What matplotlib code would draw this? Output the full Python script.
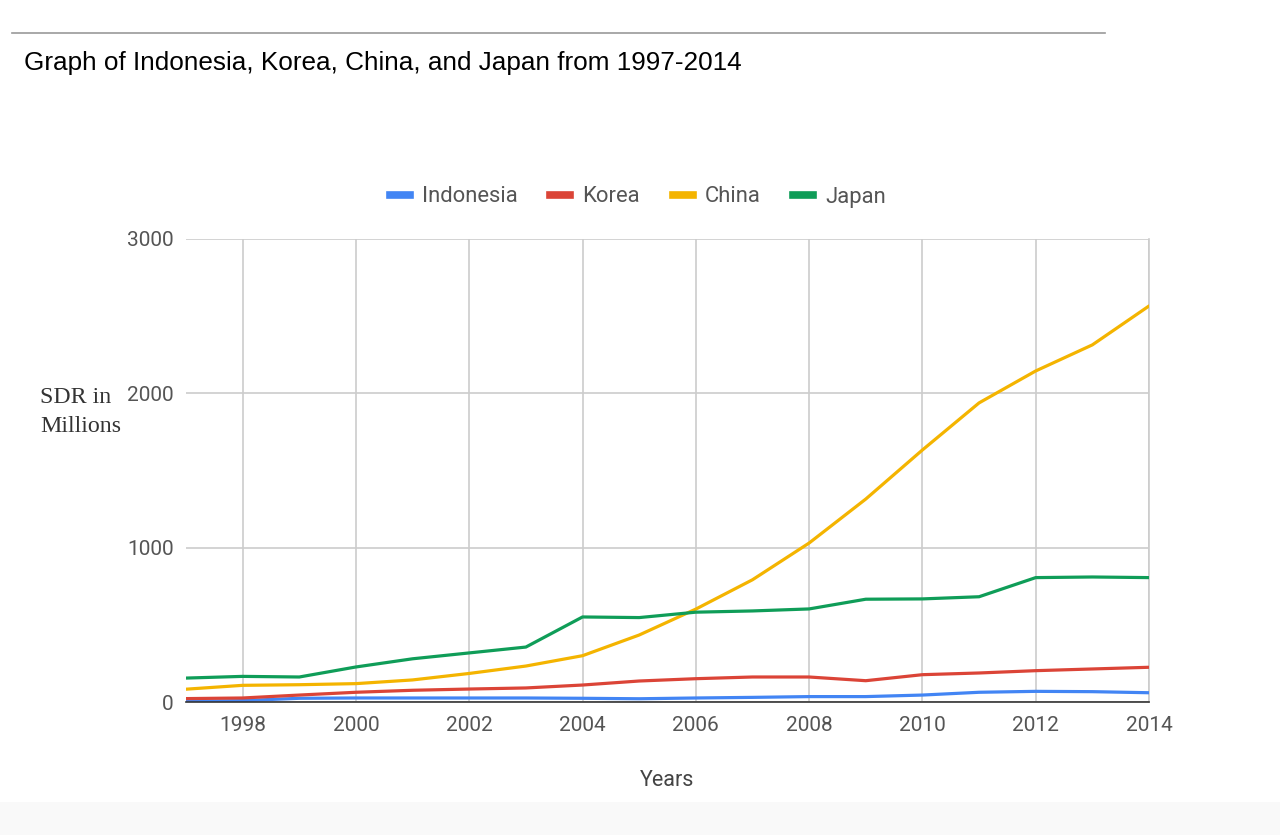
import matplotlib
matplotlib.use("Agg")
import matplotlib.pyplot as plt
from matplotlib.lines import Line2D
from matplotlib.patches import Rectangle

years = list(range(1997, 2015))
indonesia = [4, 9, 24, 26, 26, 26, 26, 24, 21, 26, 30, 35, 35, 45, 63, 69, 67, 60]
korea = [22, 26, 45, 63, 76, 84, 91, 110, 136, 151, 162, 162, 138, 177, 188, 203, 214, 225]
china = [83, 108, 112, 119, 143, 185, 233, 300, 434, 602, 792, 1030, 1315, 1633, 1938, 2145, 2314, 2566]
japan = [155, 166, 162, 227, 280, 318, 356, 551, 547, 582, 590, 603, 666, 668, 682, 806, 810, 806]

series = [("Indonesia", indonesia, "#4285F4"),
          ("Korea", korea, "#DB4437"),
          ("China", china, "#F4B400"),
          ("Japan", japan, "#0F9D58")]

xticks = list(range(1998, 2015, 2))
yticks = [0, 1000, 2000, 3000]

TXT = "#555555"

fig = plt.figure(figsize=(12.8, 8.35), dpi=100)
fig.patch.set_facecolor("white")

# faint band at the bottom of the screenshot
fig.patches.append(Rectangle((0, 0), 1, 0.04, transform=fig.transFigure,
                             facecolor="#f9f9f9", edgecolor="none", zorder=0))

# rule and page title
fig.add_artist(Line2D([12 / 1280, 1105 / 1280], [1 - 33 / 835] * 2,
                      transform=fig.transFigure, color="#999999", lw=1.2))
fig.text(24 / 1280, 1 - 63 / 835, "Graph of Indonesia, Korea, China, and Japan from 1997-2014",
         fontsize=18.8, family="Liberation Sans", color="black", va="center", ha="left")

ax = fig.add_axes([186 / 1280, 1 - 702 / 835, (1149 - 186) / 1280, (702 - 239) / 835])

for name, vals, col in series:
    ax.plot(years, vals, color=col, lw=2.3, label=name, solid_capstyle="round", zorder=3)

ax.set_xlim(1997, 2014)
ax.set_ylim(0, 3000)
ax.set_xticks(xticks)
ax.set_yticks(yticks)
ax.grid(True, color="#cccccc", lw=1.2)
ax.set_axisbelow(True)
for s in ["left", "top"]:
    ax.spines[s].set_visible(False)
ax.spines["right"].set_color("#cccccc")
ax.spines["right"].set_linewidth(1.2)
ax.spines["bottom"].set_color("#333333")
ax.spines["bottom"].set_linewidth(1.2)
ax.spines["bottom"].set_zorder(4)
ax.tick_params(length=0, labelsize=15, labelcolor=TXT)
ax.tick_params(axis="x", pad=10)
ax.tick_params(axis="y", pad=9)
for lab in ax.get_xticklabels() + ax.get_yticklabels():
    lab.set_family("Roboto")

ax.set_xlabel("Years", fontsize=15.5, family="Roboto", color="#444444", labelpad=25)

fig.text(40 / 1280, 1 - 398 / 835, "SDR in", fontsize=17.2, family="Liberation Serif",
         color="#333333", va="center", ha="left")
fig.text(40 / 1280, 1 - 427 / 835, "Millions", fontsize=17.2, family="Liberation Serif",
         color="#333333", va="center", ha="left")

handles = [Line2D([], [], color=c, lw=5.5) for _, _, c in series]
leg = fig.legend(handles, [n for n, _, _ in series], loc="center",
                 bbox_to_anchor=(638 / 1280, 1 - 197 / 835), ncol=4, frameon=False,
                 handlelength=0.9, handletextpad=0.55, columnspacing=1.5,
                 prop={"family": "Roboto", "size": 15.8})
for t in leg.get_texts():
    t.set_color(TXT)

fig.savefig("out.png", dpi=100)
